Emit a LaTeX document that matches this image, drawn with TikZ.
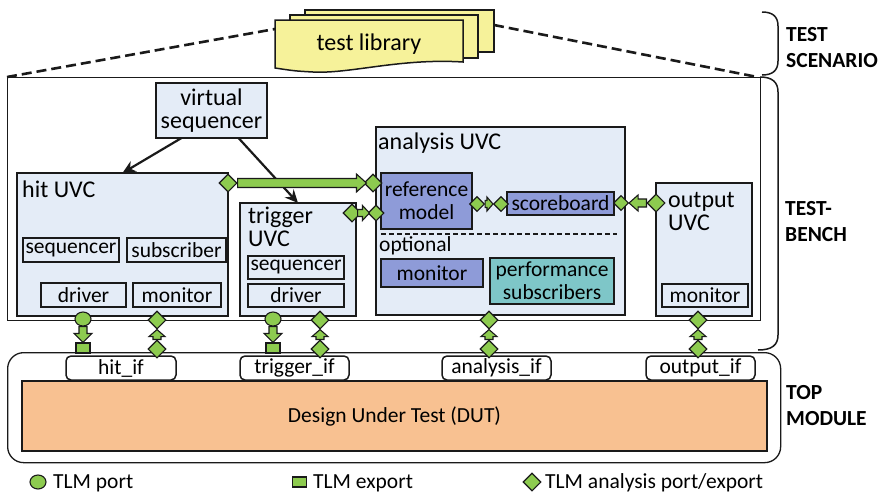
\documentclass[tikz,border=0pt]{standalone}
\usepackage{fontspec}
\setmainfont{Carlito}
\usetikzlibrary{calc,shapes.geometric,arrows.meta}
\definecolor{lc}{HTML}{1A1A1A}
\definecolor{uvcfill}{HTML}{E4ECF7}
\definecolor{reffill}{HTML}{8E9BD8}
\definecolor{perffill}{HTML}{7EC6C8}
\definecolor{gfill}{HTML}{8DCB4F}
\definecolor{yfill}{HTML}{F6F29A}
\definecolor{dutfill}{HTML}{F8C191}
\newcommand\fbig{\fontsize{24}{23}\selectfont}
\newcommand\fsm{\fontsize{21.5}{23}\selectfont}
\newcommand\flab{\fontsize{21.5}{26}\selectfont\bfseries}
% block arrow: from, to, shaft half width, head half width, head length
\newcommand\garr[5]{%
  \coordinate (gab) at ($(#2)!#5!(#1)$);
  \draw[garrow] ($(#1)!#3!90:(#2)$) -- ($(gab)!#3!90:(#2)$) -- ($(gab)!#4!90:(#2)$)
    -- (#2) -- ($(gab)!#4!-90:(#2)$) -- ($(gab)!#3!-90:(#2)$) -- ($(#1)!#3!-90:(#2)$) -- cycle;}
\begin{document}
\begin{tikzpicture}[x=1pt,y=-1pt,
  box/.style={draw=lc, line width=1.5pt, fill=uvcfill, inner sep=0pt, outer sep=0pt},
  sub/.style={box, font=\fsm},
  refb/.style={sub, fill=reffill, align=center},
  perfb/.style={sub, fill=perffill, align=center},
  ifbox/.style={draw=lc, line width=1.5pt, fill=white, rounded corners=5pt, minimum width=109pt, minimum height=24pt, font=\fsm, inner sep=0pt},
  dia/.style={diamond, aspect=1, draw=lc, line width=1.1pt, fill=gfill, minimum size=18pt, inner sep=0pt},
  sdia/.style={dia, minimum size=15pt},
  port/.style={ellipse, draw=lc, line width=1.1pt, fill=gfill, minimum width=16pt, minimum height=14pt, inner sep=0pt},
  expbox/.style={rectangle, draw=lc, line width=1.1pt, fill=gfill, minimum width=14pt, minimum height=10pt, inner sep=0pt},
  garrow/.style={draw=lc, line width=1.1pt, fill=gfill, line join=miter},
  vsarrow/.style={draw=lc, line width=2.2pt, -{Stealth[length=13pt,width=12pt]}},
  doc/.style={draw=lc, line width=1.5pt, fill=yfill},
  brk/.style={draw=lc, line width=1.5pt},
  title/.style={inner sep=0pt, font=\fbig},
  biglab/.style={inner sep=0pt, font=\flab, align=left, anchor=west},
  leg/.style={inner sep=0pt, font=\fsm, anchor=base west}]
\useasboundingbox (0,0) rectangle (882,493);

% test library
\draw[doc] (305,10) rectangle (494,52);
\draw[doc] (290,15) rectangle (478,58);
\draw[doc] (275,20) -- (463,20) -- (463,62) .. controls (400,58) and (350,74) .. (313,72) .. controls (295,71) .. (275,68) -- cycle;
\node[title] (tl) at (369,44) {test library};
\coordinate (docL) at (275,29);
\coordinate (docR) at (494,25);

% brackets
\draw[brk] (762,12) .. controls (772,12) and (778,16) .. (778,26) -- (778,61) .. controls (778,71) and (772,75) .. (762,75);
\draw[brk] (760,77) .. controls (772,77) and (778,82) .. (778,92) -- (778,335) .. controls (778,345) and (772,350) .. (758,350);
\node[biglab] (ts) at (786,48) {TEST\\SCENARIO};
\node[biglab] (tbl) at (785,222) {TEST-\\BENCH};
\node[biglab] (tml) at (786,406) {TOP\\MODULE};

% testbench and top module
\node[draw=lc, line width=1.3pt, minimum width=753pt, minimum height=243pt, anchor=north west, inner sep=0pt] (tb) at (7,77) {};
\draw[lc, line width=2.6pt, dash pattern=on 10pt off 5pt] (tb.north west) -- (docL);
\draw[lc, line width=2.6pt, dash pattern=on 10pt off 5pt] (docR) -- ([xshift=-4pt]tb.north east);
\node[draw=lc, line width=1.3pt, rounded corners=16pt, minimum width=773pt, minimum height=110pt, anchor=north west, inner sep=0pt] (top) at (7,352) {};

% interfaces and DUT
\node[ifbox, minimum width=110pt] (hitif) at (121,368) {hit\_if};
\node[ifbox] (trigif) at (294.5,368) {trigger\_if};
\node[ifbox] (anaif) at (496.5,368) {analysis\_if};
\node[ifbox] (outif) at (700.5,368) {output\_if};
\node[draw=lc, line width=1.5pt, fill=dutfill, minimum width=745pt, minimum height=70pt, inner sep=0pt, font=\fsm] (dut) at (394.5,416) {Design Under Test (DUT)};

% virtual sequencer
\node[box, minimum width=111pt, minimum height=55pt, align=center, font=\fbig] (vseq) at (211.5,110.5) {virtual\\sequencer};

% hit UVC
\node[box, minimum width=211pt, minimum height=143pt] (hit) at (122.5,244.5) {};
\node[title, anchor=base west] (hitt) at (22,197) {hit UVC};
\node[sub, minimum width=96pt, minimum height=24pt] (hitseq) at (71,250) {sequencer};
\node[sub, minimum width=99pt, minimum height=24pt] (hitsub) at (176.5,250) {subscriber};
\node[sub, minimum width=85pt, minimum height=24pt] (hitdrv) at (83.5,295) {driver};
\node[sub, minimum width=88pt, minimum height=24pt] (hitmon) at (177,295) {monitor};

% trigger UVC
\node[box, minimum width=116pt, minimum height=113pt] (trig) at (298,259.5) {};
\node[title, anchor=west, align=left] (trigt) at (248,227) {trigger\\UVC};
\node[sub, minimum width=96pt, minimum height=23pt] (trigseq) at (296,267.5) {sequencer};
\node[sub, minimum width=96pt, minimum height=23pt] (trigdrv) at (296,295.5) {driver};

% analysis UVC
\node[box, minimum width=249pt, minimum height=188pt] (ana) at (500.5,221) {};
\node[title, anchor=base west] (anat) at (378,149) {analysis UVC};
\node[refb, minimum width=91pt, minimum height=56pt] (refm) at (426.5,201) {reference\\model};
\node[refb, minimum width=107pt, minimum height=23pt] (score) at (560.5,203.5) {scoreboard};
\coordinate (dl) at (381,234);
\coordinate (dr) at (617,234);
\draw[lc, line width=1.3pt, dash pattern=on 5pt off 3pt] (dl) -- (dr);
\node[inner sep=0pt, font=\fsm, anchor=base west] (opt) at (379,251) {optional};
\node[refb, minimum width=102pt, minimum height=28pt] (amon) at (432,273) {monitor};
\node[perfb, minimum width=124pt, minimum height=46pt] (perf) at (552,281) {performance\\subscribers};

% output UVC
\node[box, minimum width=96pt, minimum height=133pt] (out) at (704,249.5) {};
\node[title, anchor=west, align=left] (outt) at (668,211) {output\\UVC};
\node[sub, minimum width=86pt, minimum height=23pt] (outmon) at (705,295.5) {monitor};

% virtual sequencer arrows
\draw[vsarrow] ([xshift=-30pt]vseq.south) -- (hit.north);
\draw[vsarrow] ([xshift=27pt]vseq.south) -- (trig.north);

% TLM ports
\node[dia] (d1) at (228,183) {};
\node[dia] (d2) at (373,183) {};
\node[dia] (d3) at (352,213) {};
\node[sdia, minimum size=16pt] (d4) at (376,213) {};
\node[sdia] (d5) at (477,204) {};
\node[sdia] (d6) at (501,204) {};
\node[sdia] (d7) at (621,203) {};
\node[dia] (d8) at (656,203) {};
\node[port] (c1) at (83,319) {};
\node[expbox] (s1) at (83,348) {};
\node[dia] (d9) at (157,320) {};
\node[dia] (d10) at (157,349) {};
\node[port] (c2) at (273,319) {};
\node[expbox] (s2) at (273,348) {};
\node[dia] (d11) at (320,320) {};
\node[dia] (d12) at (320,349) {};
\node[dia] (d13) at (489,320) {};
\node[dia] (d14) at (489,349) {};
\node[dia] (d15) at (698,320) {};
\node[dia] (d16) at (698,349) {};

% green block arrows
\garr{d1.east}{[xshift=3pt]d2.west}{4.5pt}{9pt}{10pt}
\garr{[xshift=-4pt]d3.east}{[xshift=2pt]d4.west}{3.5pt}{7.5pt}{7pt}
\garr{d5.east}{d6.west}{3.5pt}{7pt}{6pt}
\garr{d8.west}{d7.east}{4pt}{8pt}{9pt}
\garr{c1.south}{s1.north}{4pt}{9pt}{9pt}
\garr{c2.south}{s2.north}{4pt}{9pt}{9pt}
\garr{d10.north}{d9.south}{4pt}{8pt}{7pt}
\garr{d12.north}{d11.south}{4pt}{8pt}{7pt}
\garr{d14.north}{d13.south}{4pt}{8pt}{7pt}
\garr{d16.north}{d15.south}{4pt}{8pt}{7pt}

% legend
\node[port] (lc1) at (38,482) {};
\node[leg] (lt1) at (53,488) {TLM port};
\node[expbox] (ls1) at (299.5,482) {};
\node[leg] (lt2) at (313,488) {TLM export};
\node[dia] (ld1) at (532,482) {};
\node[leg] (lt3) at (545,488) {TLM analysis port/export};
\end{tikzpicture}
\end{document}
